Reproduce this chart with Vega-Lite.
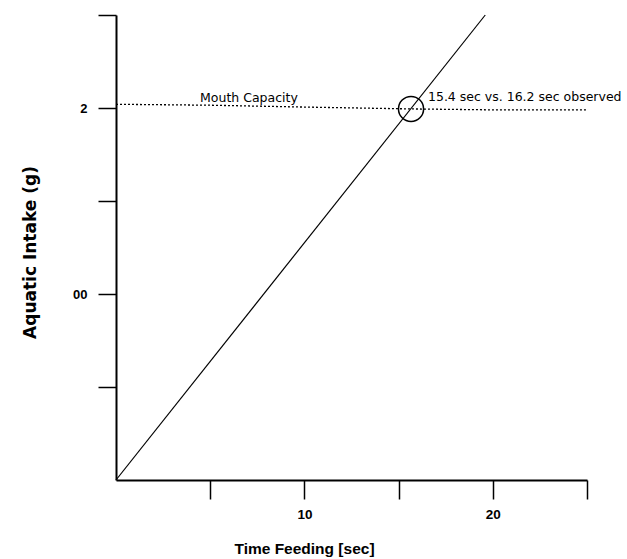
{
  "$schema": "https://vega.github.io/schema/vega-lite/v6.json",
  "autosize": "none",
  "padding": {"left": 116, "top": 15, "right": 40, "bottom": 79},
  "width": 471,
  "height": 465,
  "background": "white",
  "config": {
    "view": {"stroke": null},
    "font": "Liberation Sans"
  },
  "datasets": {
    "model": [
      {"t": 0, "g": 0},
      {"t": 19.6, "g": 2.5}
    ],
    "mouth": [
      {"t": 0, "g": 2.02},
      {"t": 5, "g": 2.015},
      {"t": 10, "g": 2.005},
      {"t": 15.7, "g": 1.995},
      {"t": 20, "g": 1.99},
      {"t": 25, "g": 1.99}
    ],
    "point": [
      {"t": 15.66, "g": 1.995}
    ],
    "labels": [
      {"t": 4.46, "g": 2.03, "label": "Mouth Capacity"},
      {"t": 16.56, "g": 2.035, "label": "15.4 sec  vs. 16.2 sec  observed"}
    ]
  },
  "layer": [
    {
      "data": {"name": "mouth"},
      "mark": {"type": "line", "color": "black", "strokeWidth": 1.3, "strokeDash": [2, 2]},
      "encoding": {
        "x": {
          "field": "t", "type": "quantitative",
          "scale": {"domain": [0, 25], "nice": false, "zero": false},
          "axis": {
            "values": [5, 10, 15, 20, 25],
            "labelExpr": "datum.value == 10 || datum.value == 20 ? datum.label : ''",
            "grid": false,
            "domainColor": "black", "domainWidth": 2,
            "tickColor": "black", "tickWidth": 1.5, "tickSize": 19,
            "labelFont": "Liberation Sans", "labelFontWeight": "bold", "labelFontSize": 13.5, "labelColor": "black",
            "labelPadding": 8,
            "title": "Time Feeding [sec]",
            "titleFont": "Liberation Sans", "titleFontWeight": "bold", "titleFontSize": 15.5, "titleColor": "black",
            "titleX": 188, "titleY": 68, "titleBaseline": "middle", "titleAlign": "center"
          }
        },
        "y": {
          "field": "g", "type": "quantitative",
          "scale": {"domain": [0, 2.5], "nice": false, "zero": false},
          "axis": {
            "values": [0.5, 1, 1.5, 2, 2.5],
            "labelExpr": "datum.value == 2 ? '2' : datum.value == 1 ? '00' : ''",
            "grid": false,
            "domainColor": "black", "domainWidth": 2,
            "tickColor": "black", "tickWidth": 1.5, "tickSize": 18,
            "labelFont": "Liberation Sans", "labelFontWeight": "bold", "labelFontSize": 13, "labelColor": "black",
            "labelPadding": 11,
            "title": "Aquatic Intake (g)",
            "titleFont": "DejaVu Sans", "titleFontWeight": "bold", "titleFontSize": 17, "titleColor": "black",
            "titleX": -86, "titleY": 237, "titleAngle": -90, "titleBaseline": "middle", "titleAlign": "center"
          }
        }
      }
    },
    {
      "data": {"name": "model"},
      "mark": {"type": "line", "color": "black", "strokeWidth": 1.2},
      "encoding": {
        "x": {"field": "t", "type": "quantitative"},
        "y": {"field": "g", "type": "quantitative"}
      }
    },
    {
      "data": {"name": "point"},
      "mark": {"type": "point", "shape": "circle", "size": 630, "color": "black", "strokeWidth": 1.5, "filled": false, "opacity": 1},
      "encoding": {
        "x": {"field": "t", "type": "quantitative"},
        "y": {"field": "g", "type": "quantitative"}
      }
    },
    {
      "data": {"name": "labels"},
      "mark": {"type": "text", "align": "left", "baseline": "alphabetic", "fontSize": 12.5, "font": "DejaVu Sans", "color": "black"},
      "encoding": {
        "x": {"field": "t", "type": "quantitative"},
        "y": {"field": "g", "type": "quantitative"},
        "text": {"field": "label"}
      }
    }
  ]
}
